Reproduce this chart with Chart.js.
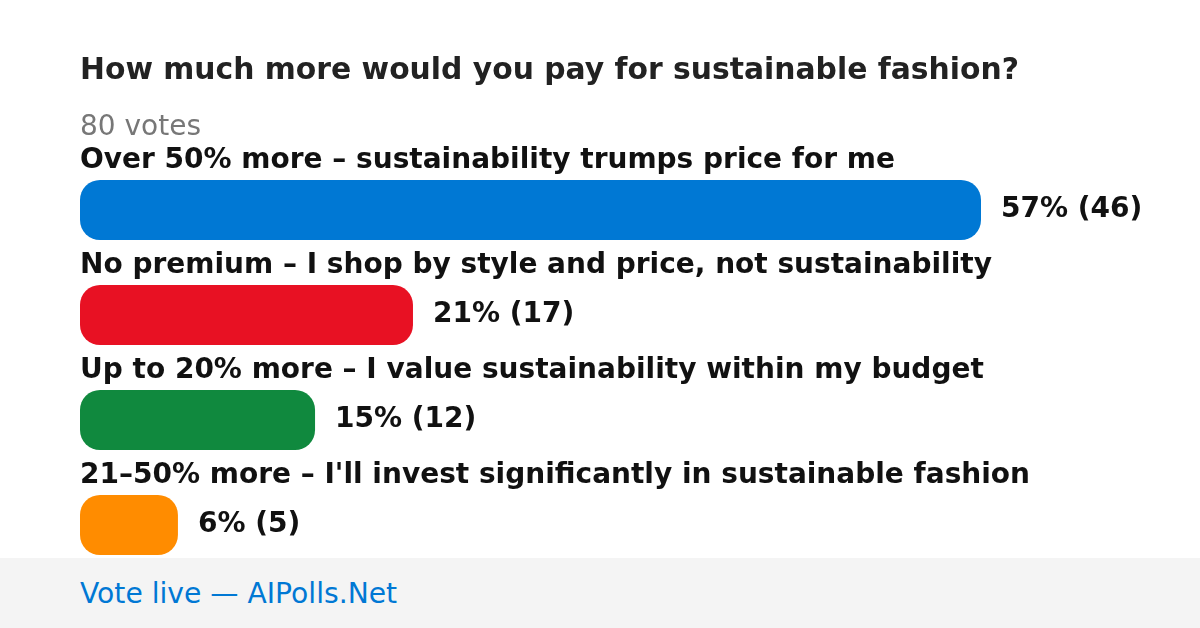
<!DOCTYPE html>
<html>
<head>
<meta charset="utf-8">
<script src="https://cdn.jsdelivr.net/npm/chart.js@4/dist/chart.umd.min.js"></script>
<style>
  html, body { margin: 0; padding: 0; background: #fff; }
  body { width: 1200px; height: 628px; position: relative; overflow: hidden; font-family: "DejaVu Sans", sans-serif; }
  #wrap { position: absolute; left: 0; top: 0; width: 1200px; height: 628px; }
  .txt { position: absolute; left: 80px; font-size: 28px; line-height: 28px; white-space: nowrap; }
  #title { top: 54px; font-size: 29.8px; line-height: 30px; font-weight: bold; color: #222; }
  #votes { top: 112px; color: #777; }
  #footer { position: absolute; left: 0; top: 558px; width: 1200px; height: 70px; background: #f4f4f4; }
  #footer span { position: absolute; left: 80px; top: 22px; font-size: 28.2px; line-height: 28px; color: #0078d4; }
</style>
</head>
<body>
<div id="wrap"><canvas id="pollChart" width="1200" height="628"></canvas></div>
<div class="txt" id="title">How much more would you pay for sustainable fashion?</div>
<div class="txt" id="votes">80 votes</div>
<div id="footer"><span>Vote live — AIPolls.Net</span></div>

<script>
// poll data
const options = [
  "Over 50% more – sustainability trumps price for me",
  "No premium – I shop by style and price, not sustainability",
  "Up to 20% more – I value sustainability within my budget",
  "21–50% more – I'll invest significantly in sustainable fashion"
];
const votes = [46, 17, 12, 5];
const percents = [57, 21, 15, 6];
const colors = ["#0078d4", "#e81123", "#10893e", "#ff8c00"];

// draws the option text above each bar and the result to its right
const barText = {
  id: "barText",
  afterDatasetsDraw(chart) {
    const ctx = chart.ctx;
    const meta = chart.getDatasetMeta(0);
    ctx.save();
    ctx.font = "bold 28px 'DejaVu Sans', sans-serif";
    ctx.fillStyle = "#111";
    meta.data.forEach((bar, i) => {
      const top = bar.y - bar.height / 2;
      ctx.textAlign = "left";
      ctx.textBaseline = "alphabetic";
      ctx.fillText(options[i], chart.chartArea.left, top - 12);
      ctx.textBaseline = "middle";
      ctx.fillText(percents[i] + "% (" + votes[i] + ")", bar.x + 20, bar.y);
    });
    ctx.restore();
  }
};

const ctx = document.getElementById("pollChart").getContext("2d");
new Chart(ctx, {
  type: "bar",
  data: {
    labels: options,
    datasets: [{
      data: votes,
      backgroundColor: colors,
      borderRadius: 20,
      borderSkipped: false,
      categoryPercentage: 1,
      barPercentage: 60 / 105
    }]
  },
  options: {
    indexAxis: "y",
    responsive: false,
    animation: false,
    layout: { padding: { left: 80, right: 219, top: 157.5, bottom: 50.5 } },
    scales: {
      x: { display: false, min: 0, max: Math.max(...votes) },
      y: { display: false }
    },
    plugins: {
      legend: { display: false },
      tooltip: { enabled: false }
    }
  },
  plugins: [barText]
});
</script>
</body>
</html>
